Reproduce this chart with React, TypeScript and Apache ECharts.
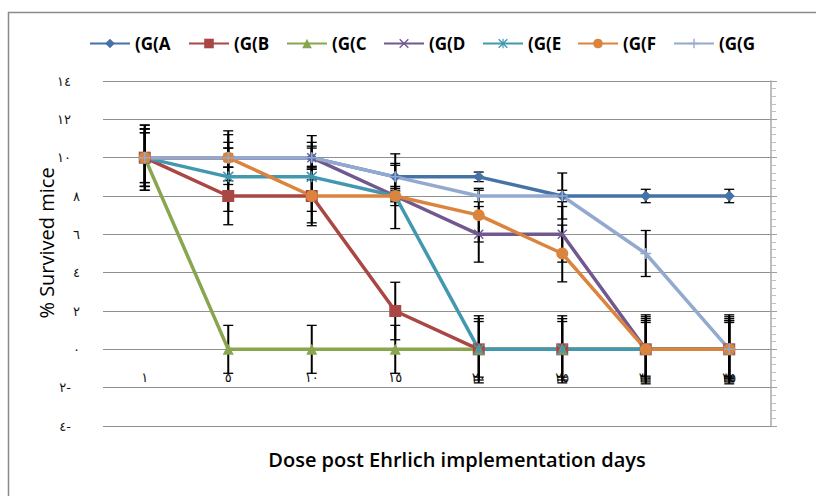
import React, { useEffect, useRef } from 'react';
import * as echarts from 'echarts';

// ---- data ----
const days = ['١', '٥', '١٠', '١٥', '٢٠', '٢٥', '٣٠', '٣٥'];
const groupNames = ['(G(A', '(G(B', '(G(C', '(G(D', '(G(E', '(G(F', '(G(G'];

const gA = [10, 10, 10, 9, 9, 8, 8, 8];
const gB = [10, 8, 8, 2, 0, 0, 0, 0];
const gC = [10, 0, 0, 0, 0, 0, 0, 0];
const gD = [10, 10, 10, 8, 6, 6, 0, 0];
const gE = [10, 9, 9, 8, 0, 0, 0, 0];
const gF = [10, 10, 8, 8, 7, 5, 0, 0];
const gG = [10, 10, 10, 9, 8, 8, 5, 0];

const errA = [1.3, 0.5, 0.6, 1.2, 0.25, 1.2, 0.35, 0.35];
const errB = [1.5, 1.5, 1.55, 1.5, 1.75, 1.75, 1.8, 1.8];
const errC = [1.7, 1.25, 1.25, 1.25, 1.6, 1.6, 1.6, 1.6];
const errD = [1.5, 0.5, 0.5, 0.5, 1.45, 1.45, 1.5, 1.5];
const errE = [1.3, 1.8, 1.8, 0.3, 1.45, 1.45, 1.4, 1.4];
const errF = [1.7, 1.2, 1.4, 1.7, 1.4, 1.48, 1.7, 1.7];
const errG = [1.5, 1.4, 1.15, 0.6, 0.3, 0.3, 1.2, 1.5];

const yTicks = { min: -4, max: 14, interval: 2 };

// ---- styles ----
const colors = ['#4572A7', '#AA4643', '#89A54E', '#71588F', '#4198AF', '#DB843D', '#93A9CF'];
const X_PATH = 'path://M1,0L5,4L9,0L10,1L6,5L10,9L9,10L5,6L1,10L0,9L4,5L0,1Z';
const STAR_PATH = 'path://M1,0L5,4L9,0L10,1L6,5L10,9L9,10L5,6L1,10L0,9L4,5L0,1Z M4.4,0L5.6,0L5.6,10L4.4,10Z';
const PLUS_PATH = 'path://M4.3,0L5.7,0L5.7,4.3L10,4.3L10,5.7L5.7,5.7L5.7,10L4.3,10L4.3,5.7L0,5.7L0,4.3L4.3,4.3Z';
const symbols = ['diamond', 'rect', 'triangle', X_PATH, STAR_PATH, 'circle', PLUS_PATH];
const symbolSizes = [11, 12, 11, 10, 11, 12, 11];
const legendLefts = [89, 188, 286, 383, 482, 577, 673];

const arabicDigits = ['٠', '١', '٢', '٣', '٤', '٥', '٦', '٧', '٨', '٩'];
function toArabic(v: number): string {
  const s = String(Math.abs(v))
    .split('')
    .map((c) => arabicDigits[Number(c)])
    .join('');
  return v < 0 ? s + '-' : s;
}

export default function App() {
  const ref = useRef<HTMLDivElement>(null);

  useEffect(() => {
    if (!ref.current) return;
    const chart = echarts.init(ref.current, null, { renderer: 'svg' });

    const values = [gA, gB, gC, gD, gE, gF, gG];
    const errs = [errA, errB, errC, errD, errE, errF, errG];

    const errData: number[][] = [];
    values.forEach((vals, si) => {
      vals.forEach((v, i) => {
        errData.push([i, v, errs[si][i]]);
      });
    });

    const lineSeries = groupNames.map((name, si) => ({
      name,
      type: 'line',
      data: values[si],
      symbol: symbols[si],
      symbolSize: symbolSizes[si],
      showAllSymbol: true,
      z: 3,
      itemStyle: { color: colors[si] },
      lineStyle: { color: colors[si], width: 3.5 },
      emphasis: { disabled: true },
    }));

    chart.setOption({
      animation: false,
      grid: { left: 103, right: 45, top: 81, bottom: 70 },
      legend: groupNames.map((name, i) => ({
        data: [name],
        left: legendLefts[i],
        top: 35,
        padding: 0,
        itemWidth: 40,
        itemHeight: 12,
        selectedMode: false,
        textStyle: { fontFamily: 'Open Sans', fontWeight: 'bold', fontSize: 17, color: '#000' },
      })),
      xAxis: {
        type: 'category',
        data: days,
        boundaryGap: true,
        axisLine: { show: false, onZero: false },
        axisTick: { show: false },
        axisLabel: { margin: -55, fontSize: 13, color: '#111', fontFamily: 'DejaVu Sans' },
        splitLine: { show: false },
      },
      yAxis: [
        {
          type: 'value',
          min: yTicks.min,
          max: yTicks.max,
          interval: yTicks.interval,
          axisLine: { show: false },
          axisTick: { show: false },
          axisLabel: {
            margin: 23,
            fontSize: 13,
            color: '#111',
            fontFamily: 'DejaVu Sans',
            formatter: (v: number) => {
              const t = toArabic(v);
              return t.length > 1 ? '{w|' + t + '}' : t;
            },
            rich: { w: { fontSize: 13, color: '#111', fontFamily: 'DejaVu Sans', padding: [0, 9, 0, 0] } },
          },
          splitLine: { show: true, lineStyle: { color: '#909090', width: 1 } },
        },
        {
          type: 'value',
          position: 'right',
          min: yTicks.min,
          max: yTicks.max,
          interval: yTicks.interval,
          axisLine: { show: true, lineStyle: { color: '#a8a8a8', width: 1.5 } },
          axisTick: { show: true, inside: false, length: 6, lineStyle: { color: '#a0a0a0' } },
          minorTick: { show: true, splitNumber: 5, length: 5, lineStyle: { color: '#c0c0c0' } },
          axisLabel: { show: false },
          splitLine: { show: false },
        },
      ],
      series: [
        {
          name: 'errors',
          type: 'custom',
          z: 2,
          silent: true,
          encode: { x: 0, y: 1 },
          data: errData,
          renderItem: (params: any, api: any) => {
            const x = api.value(0);
            const y = api.value(1);
            const e = api.value(2);
            if (!e) return null;
            const top = api.coord([x, y + e]);
            const bot = api.coord([x, y - e]);
            const hw = 5;
            const st = { stroke: '#000', lineWidth: 2 };
            const cap = { stroke: '#000', lineWidth: 1.3 };
            return {
              type: 'group',
              children: [
                { type: 'line', shape: { x1: top[0], y1: top[1], x2: bot[0], y2: bot[1] }, style: st },
                { type: 'line', shape: { x1: top[0] - hw, y1: top[1], x2: top[0] + hw, y2: top[1] }, style: cap },
                { type: 'line', shape: { x1: bot[0] - hw, y1: bot[1], x2: bot[0] + hw, y2: bot[1] }, style: cap },
              ],
            };
          },
        },
        ...lineSeries,
      ],
      graphic: [
        {
          type: 'rect',
          silent: true,
          shape: { x: 8.5, y: 12.5, width: 900, height: 600 },
          style: { fill: 'none', stroke: '#8a8a8a', lineWidth: 1.5 },
        },
        {
          type: 'text',
          x: 46,
          y: 243,
          rotation: Math.PI / 2,
          style: {
            text: '% Survived mice',
            fontFamily: 'Open Sans',
            fontSize: 20,
            fill: '#000',
            align: 'center',
            verticalAlign: 'middle',
          },
        },
        {
          type: 'text',
          x: 457,
          y: 459,
          style: {
            text: 'Dose post Ehrlich implementation days',
            fontFamily: 'Open Sans',
            fontSize: 20,
            fontWeight: 600,
            fill: '#000',
            align: 'center',
            verticalAlign: 'middle',
          },
        },
      ],
    });

    return () => chart.dispose();
  }, []);

  return (
    <div
      ref={ref}
      style={{ position: 'fixed', left: 0, top: 0, width: 816, height: 496, background: '#fff' }}
    />
  );
}
